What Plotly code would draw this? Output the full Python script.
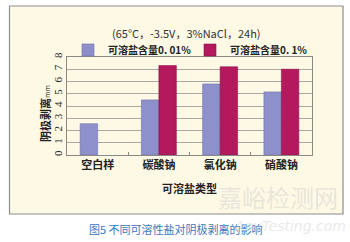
import plotly.graph_objects as go

categories = ["空白样", "碳酸钠", "氯化钠", "硝酸钠"]
series_names = ["可溶盐含量0. 01%", "可溶盐含量0. 1%"]
low_salt = [2.55, 4.5, 5.8, 5.15]
high_salt = [None, 7.3, 7.2, 7.0]
y_ticks = [0, 1, 2, 3, 4, 5, 6, 7, 8]

CJK = "Noto Sans CJK SC"
W, H = 350, 242
L, R, T, B = 67, 38, 57, 87

fig = go.Figure()
fig.add_bar(x=categories, y=low_salt, name="<b>%s</b>" % series_names[0], legend="legend",
            marker=dict(color="#8d90cb", line=dict(color="#6f72ad", width=0.6)))
fig.add_bar(x=categories, y=high_salt, name="<b>%s</b>" % series_names[1], legend="legend2",
            marker=dict(color="#b3195c", line=dict(color="#92104a", width=0.6)))

def px(x):  # paper x from pixel
    return (x - L) / (W - L - R)

def py(y):  # paper y from pixel
    return (H - B - y) / (H - T - B)

leg_common = dict(orientation="h", xref="container", yref="container",
                  xanchor="left", yanchor="middle",
                  font=dict(family=CJK, size=10, color="#222"),
                  bgcolor="rgba(0,0,0,0)", itemwidth=30)

fig.update_layout(
    width=W, height=H,
    margin=dict(l=L, r=R, t=T, b=B, autoexpand=False),
    paper_bgcolor="white",
    plot_bgcolor="#d5d5ce",
    barmode="group",
    bargap=0.43,
    bargroupgap=0.0,
    showlegend=True,
    legend=dict(x=68 / W, y=1 - 50 / H, **leg_common),
    legend2=dict(x=190 / W, y=1 - 50 / H, **leg_common),
    font=dict(family=CJK, size=11, color="#222"),
)

fig.update_xaxes(
    showgrid=False, ticks="inside", tickson="boundaries", ticklen=3,
    tickcolor="#8a8a85", showline=True, linecolor="#8a8a85", linewidth=1,
    tickfont=dict(family=CJK, size=11, color="#222"),
    title=dict(text="<b>可溶盐类型</b>", font=dict(family=CJK, size=11, color="#222"), standoff=14),
    mirror=True, automargin=False,
)
fig.update_xaxes(ticktext=["<b>%s</b>" % c for c in categories], tickvals=categories)
fig.update_yaxes(
    range=[0, 8], tickvals=y_ticks, ticktext=[str(v) for v in y_ticks],
    tickangle=-90, showgrid=True, gridcolor="#a9a9a3", gridwidth=1,
    tickfont=dict(family="Liberation Serif", size=11, color="#222"),
    showline=True, linecolor="#8a8a85", mirror=True, zeroline=False, ticks="",
    automargin=False,
)

# panel background and border
fig.add_shape(type="rect", xref="paper", yref="paper", x0=px(9.5), x1=px(343), y0=py(6), y1=py(214),
              fillcolor="#fdf9e5", line=dict(color="#8e8e8e", width=1.2), layer="below")

def note(text, x, y, font, angle=0):
    fig.add_annotation(text=text, xref="paper", yref="paper", x=px(x), y=py(y),
                       xanchor="center", yanchor="middle", showarrow=False,
                       textangle=angle, font=font)

note("(65°C，-3.5V，3%NaCl，24h)", 186, 33, dict(family=CJK, size=11, color="#333"))
note("<b>阴极剥离</b><span style='font-size:7px'>mm</span>", 45, 114,
     dict(family=CJK, size=11, color="#222"), angle=-90)
note("图5 不同可溶性盐对阴极剥离的影响", 176, 229, dict(family=CJK, size=11, color="#3a78bd"))
# watermark
note("嘉峪检测网", 278, 196, dict(family=CJK, size=24, color="rgba(205,205,205,0.45)"))
note("<i>AnyTesting.com</i>", 290, 226, dict(family="DejaVu Sans", size=14, color="rgba(205,205,205,0.45)"))

fig.write_html("out.html")
